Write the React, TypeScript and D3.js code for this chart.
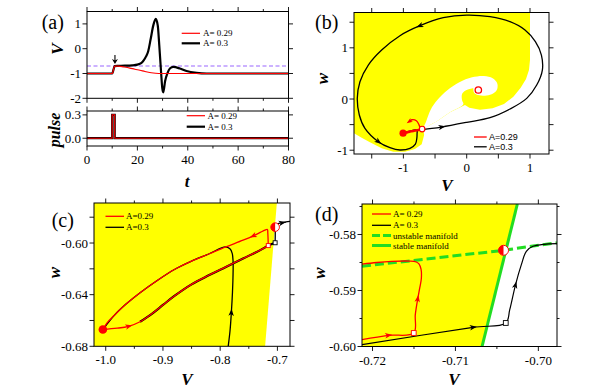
import React from "react";
import * as d3 from "d3";

type P = [number, number];

// ================= Panel (a) data =================
const tBlack = [0, 10, 11, 12, 15, 18, 20, 21.5, 22.5, 23.5, 24.3, 25.3, 26.3, 27.3, 28.1, 28.7, 29.4, 29.9, 30.3, 31, 31.9, 32.9, 34.3, 36.9, 39.5, 43.5, 47.5, 80];
const vBlack = [-1, -1, -0.7, -0.69, -0.685, -0.67, -0.64, -0.58, -0.47, -0.3, -0.1, 0.4, 0.93, 1.2, 0.93, 0.13, -0.93, -1.6, -1.76, -1.31, -1.0, -0.8, -0.735, -0.8, -0.9, -0.975, -1.0, -1.0];
const tRed = [0, 10, 11, 12.5, 14.5, 17, 19, 21, 23, 25.5, 28.5, 80];
const vRed = [-1, -1, -0.7, -0.705, -0.735, -0.78, -0.83, -0.87, -0.92, -0.97, -1.0, -1.0];
const tPulse = [0, 10, 10, 11, 11, 80];
const pulseVals = [0, 0, 0.3, 0.3, 0, 0];
const thresholdV = -0.7;
const arrowA = { t: 11.1, vFrom: -0.25, vTo: -0.62 };
const aXTicks = [0, 20, 40, 60, 80];
const aXMinor = [10, 30, 50, 70];
const aVTicks = [-2, -1, 0, 1];
const aPulseTicks = [0, 0.3];
const aPulseLabels = ["0.0", "0.3"];

// ================= Panel (b) data =================
const bBasin: P[] = [
  [-1.78, 1.69], [1.0, 1.69], [1.0, 0.762], [0.984, 0.566], [0.937, 0.391], [0.853, 0.221],
  [0.737, 0.046], [0.589, -0.098], [0.41, -0.182], [0.21, -0.208], [0.042, -0.169], [-0.027, -0.117],
  [-0.264, -0.26], [-0.464, -0.43], [-0.58, -0.508], [-0.685, -0.592], [-0.672, -0.703],
  [-0.711, -0.885], [-0.817, -0.977], [-0.975, -1.029], [-1.159, -1.029], [-1.343, -0.963],
  [-1.528, -0.846], [-1.659, -0.755], [-1.78, -0.671],
];
const bChannel: P[] = [
  [-0.685, -0.592], [-0.638, -0.43], [-0.569, -0.208], [-0.464, -0.02], [-0.306, 0.169],
  [-0.116, 0.326], [0.084, 0.423], [0.273, 0.449], [0.41, 0.404], [0.484, 0.299], [0.473, 0.169],
  [0.394, 0.091], [0.289, 0.065], [0.2, 0.072], [0.126, 0.124], [0.105, 0.208], [0.031, 0.189],
  [-0.032, 0.156], [-0.074, 0.091], [-0.074, -0.02], [-0.053, -0.104], [-0.264, -0.26],
  [-0.464, -0.43], [-0.58, -0.508],
];
const bFocus: P = [0.184, 0.176];
const bSaddle: P = [-0.704, -0.587];
const bBlack: P[] = [
  [-0.704, -0.596], [-0.55, -0.575], [-0.395, -0.547], [0.0, -0.456], [0.368, -0.365], [0.684, -0.195],
  [0.948, 0.013], [1.106, 0.273], [1.195, 0.566], [1.18, 0.859], [1.085, 1.12], [0.921, 1.348],
  [0.684, 1.51], [0.368, 1.608], [0.0, 1.64], [-0.37, 1.588], [-0.738, 1.432], [-1.054, 1.237],
  [-1.343, 0.957], [-1.554, 0.664], [-1.686, 0.338], [-1.728, 0.013], [-1.696, -0.3125],
  [-1.607, -0.573], [-1.396, -0.833], [-1.212, -0.951], [-1.054, -0.996], [-0.896, -0.963],
  [-0.81, -0.88], [-0.787, -0.76], [-0.784, -0.68], [-0.785, -0.615], [-0.81, -0.605],
  [-0.9, -0.628], [-1.005, -0.667],
];
const bBlackArrows = [2, 16, 24];
const bRedHook: P[] = [[-0.735, -0.57], [-0.755, -0.5], [-0.795, -0.425], [-0.865, -0.405], [-0.905, -0.438]];
const bTicks = [-1.5, -1, -0.5, 0, 0.5, 1];
const bYTicks = [-1, -0.5, 0, 0.5, 1, 1.5];
const bLabelTicks = [-1, 0, 1];
const bLabels = ["-1", "0", "1"];

// ================= Panel (c) data =================
const cRest: P = [-1.005, -0.667];
const cSaddle: P = [-0.704, -0.5877];
const cLower: P[] = [
  [-1.005, -0.667], [-0.98, -0.666], [-0.96, -0.6645], [-0.94, -0.661], [-0.92, -0.655], [-0.9, -0.648],
  [-0.88, -0.641], [-0.85, -0.632], [-0.82, -0.625], [-0.79, -0.6185], [-0.76, -0.612], [-0.73, -0.6055],
  [-0.716, -0.602],
];
const cRedUp: P[] = [
  [-0.716, -0.602], [-0.7163, -0.597], [-0.7168, -0.592], [-0.7175, -0.5895], [-0.722, -0.59],
  [-0.73, -0.5918], [-0.742, -0.5944], [-0.76, -0.5978], [-0.79, -0.603], [-0.82, -0.6085],
  [-0.85, -0.614], [-0.88, -0.6205], [-0.91, -0.629], [-0.94, -0.6385], [-0.965, -0.6475],
  [-0.985, -0.656], [-0.998, -0.662], [-1.005, -0.667],
];
const cBlackSquare: P = [-0.704, -0.5998];
const cBlackOut: P[] = [
  [-0.704, -0.5998], [-0.7038, -0.595], [-0.7035, -0.5895], [-0.702, -0.5865], [-0.698, -0.585],
  [-0.692, -0.5843], [-0.685, -0.5837], [-0.678, -0.5832],
];
const cBlackReturn: P[] = [
  [-0.786, -0.68], [-0.7828, -0.668], [-0.7805, -0.654], [-0.7785, -0.638], [-0.7775, -0.624],
  [-0.7775, -0.614], [-0.779, -0.608], [-0.783, -0.6045], [-0.791, -0.603], [-0.82, -0.6085],
  [-0.85, -0.614], [-0.88, -0.6205], [-0.91, -0.629], [-0.94, -0.6385], [-0.965, -0.6475],
  [-0.985, -0.656], [-1.005, -0.667],
];
const cBasin: P[] = [[-1.0205, -0.569], [-0.701, -0.569], [-0.7215, -0.68], [-1.0205, -0.68]];
const cXTicks = [-1.0, -0.9, -0.8, -0.7];
const cXMinor = [-0.95, -0.85, -0.75];
const cXLabels = ["-1.0", "-0.9", "-0.8", "-0.7"];
const cYTicks = [-0.68, -0.66, -0.64, -0.62, -0.6, -0.58];
const cYLabelTicks = [-0.68, -0.64, -0.6];
const cYLabels = ["-0.68", "-0.64", "-0.60"];

// ================= Panel (d) data =================
const dSaddle: P = [-0.7042, -0.58282];
const dStable: P[] = [[-0.70253, -0.574554], [-0.70679, -0.6]];
const dUnstable: P[] = [[-0.72127, -0.58568], [-0.7042, -0.58282], [-0.70085, -0.5821], [-0.69775, -0.5815]];
const dBasin: P[] = [[-0.72127, -0.574554], [-0.70253, -0.574554], [-0.70679, -0.6], [-0.72127, -0.6]];
const dRed: P[] = [
  [-0.72127, -0.59878], [-0.7181, -0.598], [-0.71503, -0.59759], [-0.71484, -0.5943], [-0.71455, -0.5915],
  [-0.7143, -0.5895], [-0.71411, -0.5878], [-0.71415, -0.5862], [-0.7144, -0.58525], [-0.71472, -0.58491],
  [-0.7155, -0.58475], [-0.7177, -0.5848], [-0.7195, -0.585], [-0.72127, -0.5853],
];
const dRedSquare: P = [-0.71503, -0.59759];
const dBlack: P[] = [
  [-0.72127, -0.59968], [-0.70788, -0.59657], [-0.70393, -0.5958], [-0.70345, -0.59343], [-0.70277, -0.58907],
  [-0.70205, -0.58539], [-0.70145, -0.583], [-0.70064, -0.58211], [-0.69775, -0.58164],
];
const dBlackSquare: P = [-0.70393, -0.5958];
const dXTicks = [-0.72, -0.71, -0.7];
const dXMinor = [-0.715, -0.705];
const dXLabels = ["-0.72", "-0.71", "-0.70"];
const dYTicks = [-0.6, -0.59, -0.58];
const dYMinor = [-0.595, -0.585, -0.575];
const dYLabels = ["-0.60", "-0.59", "-0.58"];

const serif = "'Liberation Serif', 'Times New Roman', Times, serif";
const sans = "'Liberation Sans', Arial, sans-serif";
const YELLOW = "#ffff00";
const RED = "#ff0000";
const GREEN = "#22dd22";

function Frame(props: any) {
  const { xs, ys, xt = [], xm = [], yt = [], ym = [], xlv = [], xls = [], ylv = [], yls = [] } = props;
  const [x0, x1] = xs.range();
  const [yb, yt0] = ys.range();
  const M = 4.5, m = 2.5;
  const els: any[] = [];
  const seg = (k: string, a: number, b: number, c: number, d: number) =>
    els.push(<line key={k} x1={a} y1={b} x2={c} y2={d} stroke="#000" strokeWidth={0.9} />);
  xt.forEach((v: number, i: number) => { const x = xs(v); seg("xb" + i, x, yb, x, yb + M); seg("xt" + i, x, yt0, x, yt0 - M); });
  xm.forEach((v: number, i: number) => { const x = xs(v); seg("xmb" + i, x, yb, x, yb + m); seg("xmt" + i, x, yt0, x, yt0 - m); });
  yt.forEach((v: number, i: number) => { const y = ys(v); seg("yl" + i, x0, y, x0 - M, y); seg("yr" + i, x1, y, x1 + M, y); });
  ym.forEach((v: number, i: number) => { const y = ys(v); seg("yml" + i, x0, y, x0 - m, y); seg("ymr" + i, x1, y, x1 + m, y); });
  return (
    <g>
      {els}
      <rect x={x0} y={yt0} width={x1 - x0} height={yb - yt0} fill="none" stroke="#000" strokeWidth={1} />
      {xlv.map((v: number, i: number) => (
        <text key={"xl" + i} x={xs(v)} y={yb + 18} textAnchor="middle" fontFamily={serif} fontSize={13}>{xls[i]}</text>
      ))}
      {ylv.map((v: number, i: number) => (
        <text key={"ylb" + i} x={x0 - 6} y={ys(v)} dy="0.35em" textAnchor="end" fontFamily={serif} fontSize={13}>{yls[i]}</text>
      ))}
    </g>
  );
}

function Arrow({ pts, i, xs, ys, color, size = 6.5 }: any) {
  const a = pts[Math.max(0, i - 1)], b = pts[Math.min(pts.length - 1, i + 1)];
  const ang = (Math.atan2(ys(b[1]) - ys(a[1]), xs(b[0]) - xs(a[0])) * 180) / Math.PI;
  const x = xs(pts[i][0]), y = ys(pts[i][1]);
  return (
    <path
      d={`M${size * 0.6},0 L${-size * 0.5},${size * 0.42} L${-size * 0.2},0 L${-size * 0.5},${-size * 0.42} Z`}
      transform={`translate(${x},${y}) rotate(${ang})`}
      fill={color}
    />
  );
}

function HalfCircle({ cx, cy, r }: any) {
  return (
    <g>
      <circle cx={cx} cy={cy} r={r} fill="#fff" stroke={RED} strokeWidth={1} />
      <path d={`M${cx},${cy - r} A${r},${r} 0 0 0 ${cx},${cy + r} Z`} fill={RED} />
    </g>
  );
}

export default function App() {
  const aX = d3.scaleLinear().domain([0, 80]).range([87, 288.5]);
  const aYV = d3.scaleLinear().domain([-2, 1.5]).range([98.3, 11.5]);
  const aYP = d3.scaleLinear().domain([-0.1, 0.35]).range([146, 111]);
  const bX = d3.scaleLinear().domain([-1.78, 1.3]).range([354, 549]);
  const bY = d3.scaleLinear().domain([-1.074, 1.69]).range([154, 12.5]);
  const cX = d3.scaleLinear().domain([-1.0205, -0.678]).range([94, 290]);
  const cY = d3.scaleLinear().domain([-0.68, -0.569]).range([346.3, 203]);
  const dX = d3.scaleLinear().domain([-0.72127, -0.69775]).range([362, 557]);
  const dY = d3.scaleLinear().domain([-0.6, -0.574554]).range([346.5, 204]);

  const lineOf = (xs: any, ys: any, curve: any = d3.curveLinear) =>
    d3.line<P>().x((d) => xs(d[0])).y((d) => ys(d[1])).curve(curve);

  const aBlackPts: P[] = tBlack.map((t, i) => [t, vBlack[i]]);
  const aRedPts: P[] = tRed.map((t, i) => [t, vRed[i]]);
  const aPulsePts: P[] = tPulse.map((t, i) => [t, pulseVals[i]]);
  const aLine = lineOf(aX, aYV, d3.curveMonotoneX);
  const pLine = lineOf(aX, aYP);

  const bLine = lineOf(bX, bY, d3.curveCatmullRom.alpha(0.5));
  const bPoly = lineOf(bX, bY, d3.curveLinearClosed);
  const bPolySmooth = lineOf(bX, bY, d3.curveCatmullRomClosed.alpha(0.5));
  const cLine = lineOf(cX, cY, d3.curveCatmullRom.alpha(0.5));
  const cPoly = lineOf(cX, cY, d3.curveLinearClosed);
  const dLine = lineOf(dX, dY, d3.curveCatmullRom.alpha(0.5));
  const dLin = lineOf(dX, dY);
  const dPoly = lineOf(dX, dY, d3.curveLinearClosed);

  const clip = (id: string, xs: any, ys: any) => {
    const [x0, x1] = xs.range();
    const [yb, yt] = ys.range();
    return (
      <clipPath id={id} key={id}>
        <rect x={x0} y={yt} width={x1 - x0} height={yb - yt} />
      </clipPath>
    );
  };

  const legendText = (x: number, y: number, s: string, font = serif, size = 9) => (
    <text x={x} y={y} dy="0.35em" fontFamily={font} fontSize={size}>{s}</text>
  );

  return (
    <svg width={606} height={390} style={{ position: "absolute", left: 0, top: 0 }}>
      <rect width={606} height={390} fill="#fff" />
      <defs>
        {clip("clipA", aX, aYV)}
        {clip("clipP", aX, aYP)}
        {clip("clipB", bX, bY)}
        {clip("clipC", cX, cY)}
        {clip("clipD", dX, dY)}
      </defs>

      {/* ===== (a) top ===== */}
      <g clipPath="url(#clipA)">
        <line x1={aX(0)} x2={aX(80)} y1={aYV(thresholdV)} y2={aYV(thresholdV)} stroke="#9966ff" strokeWidth={1.1} strokeDasharray="4,2.5" />
        <path d={aLine(aBlackPts) || ""} fill="none" stroke="#000" strokeWidth={2.2} />
        <path d={aLine(aRedPts) || ""} fill="none" stroke={RED} strokeWidth={1.2} />
      </g>
      <line x1={aX(arrowA.t)} x2={aX(arrowA.t)} y1={aYV(arrowA.vFrom)} y2={aYV(arrowA.vTo) - 3} stroke="#000" strokeWidth={1.1} />
      <path d={`M${aX(arrowA.t)},${aYV(arrowA.vTo)} l-3,-5 l3,1.5 l3,-1.5 Z`} fill="#000" />
      <Frame xs={aX} ys={aYV} xt={aXTicks} xm={aXMinor} yt={aVTicks} ylv={aVTicks} yls={aVTicks.map(String)} />
      <line x1={181.7} x2={200} y1={33.3} y2={33.3} stroke={RED} strokeWidth={1.2} />
      {legendText(203, 33.3, "A= 0.29")}
      <line x1={181.7} x2={200} y1={43.3} y2={43.3} stroke="#000" strokeWidth={2.2} />
      {legendText(203, 43.3, "A= 0.3")}
      <text transform="translate(63.3,49) rotate(-90)" textAnchor="middle" fontFamily={serif} fontSize={17} fontWeight="bold" fontStyle="italic">V</text>

      {/* ===== (a) pulse ===== */}
      <g clipPath="url(#clipP)">
        <path d={pLine(aPulsePts) || ""} fill="none" stroke="#000" strokeWidth={2.2} />
        <path d={pLine(aPulsePts) || ""} fill="none" stroke={RED} strokeWidth={1.1} />
      </g>
      <Frame xs={aX} ys={aYP} xt={aXTicks} xm={aXMinor} yt={aPulseTicks} xlv={aXTicks} xls={aXTicks.map(String)} ylv={aPulseTicks} yls={aPulseLabels} />
      <line x1={186.7} x2={205} y1={115.7} y2={115.7} stroke={RED} strokeWidth={1.2} />
      {legendText(207.5, 115.7, "A= 0.29")}
      <line x1={186.7} x2={205} y1={126.7} y2={126.7} stroke="#000" strokeWidth={2.2} />
      {legendText(207.5, 126.7, "A= 0.3")}
      <text transform="translate(59.5,130) rotate(-90)" textAnchor="middle" fontFamily={serif} fontSize={16} fontWeight="bold" fontStyle="italic">pulse</text>
      <text x={187} y={187} textAnchor="middle" fontFamily={serif} fontSize={17} fontWeight="bold" fontStyle="italic">t</text>
      <text x={41.7} y={29} fontFamily={serif} fontSize={20}>(a)</text>

      {/* ===== (b) ===== */}
      <g clipPath="url(#clipB)">
        <path d={bPoly(bBasin) || ""} fill={YELLOW} />
        <path d={bPolySmooth(bChannel) || ""} fill="#fff" />
        <circle cx={bX(bFocus[0])} cy={bY(bFocus[1])} r={5} fill="#fff" />
        <path d={bLine(bBlack) || ""} fill="none" stroke="#000" strokeWidth={1.3} />
        {bBlackArrows.map((i) => <Arrow key={"ba" + i} pts={bBlack} i={i} xs={bX} ys={bY} color="#000" />)}
        <path d={bLine(cLower) || ""} fill="none" stroke={RED} strokeWidth={1.6} />
        <path d={bLine(cRedUp) || ""} fill="none" stroke={RED} strokeWidth={1.6} />
        <path d={bLine(bRedHook) || ""} fill="none" stroke={RED} strokeWidth={1.3} />
        <Arrow pts={bRedHook} i={bRedHook.length - 1} xs={bX} ys={bY} color={RED} size={5.5} />
        <circle cx={bX(cRest[0])} cy={bY(cRest[1])} r={3.6} fill={RED} />
        <circle cx={bX(bSaddle[0])} cy={bY(bSaddle[1])} r={2.8} fill="#fff" stroke={RED} strokeWidth={1.2} />
        <circle cx={bX(bFocus[0])} cy={bY(bFocus[1])} r={3.2} fill="#fff" stroke={RED} strokeWidth={1.3} />
      </g>
      <Frame xs={bX} ys={bY} xt={bTicks} yt={bYTicks} xlv={bLabelTicks} xls={bLabels} ylv={bLabelTicks} yls={bLabels} />
      <line x1={474} x2={486.7} y1={137} y2={137} stroke={RED} strokeWidth={1.3} />
      {legendText(489, 137, "A=0.29", sans, 9)}
      <line x1={474} x2={486.7} y1={146.8} y2={146.8} stroke="#000" strokeWidth={1.3} />
      {legendText(489, 146.8, "A=0.3", sans, 9)}
      <text x={447} y={191} textAnchor="middle" fontFamily={serif} fontSize={17} fontWeight="bold" fontStyle="italic">V</text>
      <text transform="translate(328,78.5) rotate(-90)" textAnchor="middle" fontFamily={serif} fontSize={17} fontWeight="bold" fontStyle="italic">w</text>
      <text x={315} y={29} fontFamily={serif} fontSize={20}>(b)</text>

      {/* ===== (c) ===== */}
      <g clipPath="url(#clipC)">
        <path d={cPoly(cBasin) || ""} fill={YELLOW} />
        <path d={cLine(cBlackReturn) || ""} fill="none" stroke="#000" strokeWidth={1.3} />
        <path d={cLine([...cLower.slice(3), cBlackSquare]) || ""} fill="none" stroke="#000" strokeWidth={2.2} />
        <path d={cLine(cBlackOut) || ""} fill="none" stroke="#000" strokeWidth={1.3} />
        <path d={cLine(cLower) || ""} fill="none" stroke={RED} strokeWidth={1.3} />
        <path d={cLine(cRedUp) || ""} fill="none" stroke={RED} strokeWidth={1.3} />
        <Arrow pts={cLower} i={2} xs={cX} ys={cY} color={RED} />
        <Arrow pts={cRedUp} i={6} xs={cX} ys={cY} color={RED} />
        <Arrow pts={cBlackReturn} i={2} xs={cX} ys={cY} color="#000" />
        <Arrow pts={cBlackOut} i={5} xs={cX} ys={cY} color="#000" />
        <circle cx={cX(cRest[0])} cy={cY(cRest[1])} r={4.3} fill={RED} />
        <HalfCircle cx={cX(cSaddle[0])} cy={cY(cSaddle[1])} r={4.3} />
        <rect x={cX(cLower[cLower.length - 1][0]) - 2} y={cY(cLower[cLower.length - 1][1]) - 2} width={4} height={4} fill="#fff" stroke={RED} strokeWidth={0.9} />
        <rect x={cX(cBlackSquare[0]) - 2} y={cY(cBlackSquare[1]) - 2} width={4} height={4} fill="#fff" stroke="#000" strokeWidth={0.9} />
      </g>
      <Frame xs={cX} ys={cY} xt={cXTicks} xm={cXMinor} yt={cYTicks} xlv={cXTicks} xls={cXLabels} ylv={cYLabelTicks} yls={cYLabels} />
      <line x1={105.5} x2={124} y1={216.3} y2={216.3} stroke={RED} strokeWidth={1.3} />
      {legendText(126, 216.3, "A=0.29")}
      <line x1={105.5} x2={124} y1={227.3} y2={227.3} stroke="#000" strokeWidth={1.3} />
      {legendText(126, 227.3, "A=0.3")}
      <text x={187} y={385} textAnchor="middle" fontFamily={serif} fontSize={17} fontWeight="bold" fontStyle="italic">V</text>
      <text transform="translate(60,272.5) rotate(-90)" textAnchor="middle" fontFamily={serif} fontSize={17} fontWeight="bold" fontStyle="italic">w</text>
      <text x={51.7} y={227.3} fontFamily={serif} fontSize={20}>(c)</text>

      {/* ===== (d) ===== */}
      <g clipPath="url(#clipD)">
        <path d={dPoly(dBasin) || ""} fill={YELLOW} />
        <path d={dLin(dUnstable) || ""} fill="none" stroke={GREEN} strokeWidth={3} strokeDasharray="9,4" />
        <path d={dLin(dStable) || ""} fill="none" stroke={GREEN} strokeWidth={3} />
        <path d={dLine(dBlack) || ""} fill="none" stroke="#000" strokeWidth={1.2} />
        <path d={dLine(dRed) || ""} fill="none" stroke={RED} strokeWidth={1.3} />
        <Arrow pts={dRed} i={1} xs={dX} ys={dY} color={RED} />
        <Arrow pts={dRed} i={4} xs={dX} ys={dY} color={RED} />
        <Arrow pts={dBlack} i={1} xs={dX} ys={dY} color="#000" />
        <Arrow pts={dBlack} i={4} xs={dX} ys={dY} color="#000" />
        <rect x={dX(dRedSquare[0]) - 2.4} y={dY(dRedSquare[1]) - 2.4} width={4.8} height={4.8} fill="#fff" stroke={RED} strokeWidth={0.9} />
        <rect x={dX(dBlackSquare[0]) - 2.4} y={dY(dBlackSquare[1]) - 2.4} width={4.8} height={4.8} fill="#fff" stroke="#000" strokeWidth={0.9} />
        <HalfCircle cx={dX(dSaddle[0])} cy={dY(dSaddle[1])} r={5} />
      </g>
      <Frame xs={dX} ys={dY} xt={dXTicks} xm={dXMinor} yt={dYTicks} ym={dYMinor} xlv={dXTicks} xls={dXLabels} ylv={dYTicks} yls={dYLabels} />
      <line x1={372} x2={391} y1={214} y2={214} stroke={RED} strokeWidth={1.3} />
      {legendText(393, 214, "A= 0.29")}
      <line x1={372} x2={391} y1={225.3} y2={225.3} stroke="#000" strokeWidth={1.3} />
      {legendText(393, 225.3, "A= 0.3")}
      <line x1={372} x2={391} y1={235.5} y2={235.5} stroke={GREEN} strokeWidth={3} strokeDasharray="8,3" />
      {legendText(393, 235.5, "unstable manifold")}
      <line x1={372} x2={391} y1={245.5} y2={245.5} stroke={GREEN} strokeWidth={3} />
      {legendText(393, 245.5, "stable manifold")}
      <text x={454} y={385} textAnchor="middle" fontFamily={serif} fontSize={17} fontWeight="bold" fontStyle="italic">V</text>
      <text transform="translate(325,273) rotate(-90)" textAnchor="middle" fontFamily={serif} fontSize={17} fontWeight="bold" fontStyle="italic">w</text>
      <text x={315} y={220.6} fontFamily={serif} fontSize={20}>(d)</text>
    </svg>
  );
}
